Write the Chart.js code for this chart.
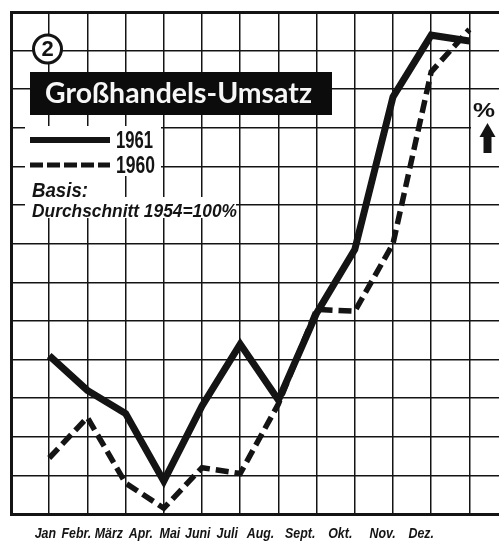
<!DOCTYPE html>
<html>
<head>
<meta charset="utf-8">
<script src="https://cdn.jsdelivr.net/npm/chart.js@4/dist/chart.umd.min.js"></script>
<style>
  html, body { margin: 0; padding: 0; background: #fff; overflow: hidden; }
  canvas { display: block; }
</style>
</head>
<body>
<canvas id="umsatz" width="520" height="543"></canvas>
<script>
// Monate (Kategorien) und Beschriftung
const months = [0, 1, 2, 3, 4, 5, 6, 7, 8, 9, 10, 11];
const monthLabels = ['Jan', 'Febr.', 'März', 'Apr.', 'Mai', 'Juni', 'Juli', 'Aug.', 'Sept.', 'Okt.', 'Nov.', 'Dez.'];

// Großhandels-Umsatz, in Kästchen des Rasters (Basis: Durchschnitt 1954 = 100 %)
const umsatz1961 = [4.1, 3.2, 2.6, 0.85, 2.8, 4.4, 2.95, 5.2, 6.85, 10.8, 12.4, 12.25];
const umsatz1960 = [1.45, 2.5, 0.8, 0.15, 1.2, 1.05, 2.85, 5.3, 5.25, 7.0, 11.45, 12.55];

// Lage der Monatsnamen unter dem Raster (gesetzt wie eine Textzeile)
const labelPos = [-0.1, 0.71, 1.56, 2.4, 3.16, 3.89, 4.66, 5.53, 6.57, 7.62, 8.73, 9.74];

const INK = '#141414';
const SANS = '"Liberation Sans", Arial, sans-serif';

function toPoints(vals) {
  return months.map((m, i) => ({ x: m, y: vals[i] }));
}

// Text auf eine bestimmte Breite bringen
function fitText(ctx, text, x, y, font, width) {
  ctx.save();
  ctx.font = font;
  const w = ctx.measureText(text).width;
  ctx.translate(x, y);
  ctx.scale(width / w, 1);
  ctx.textAlign = 'left';
  ctx.textBaseline = 'alphabetic';
  ctx.fillText(text, 0, 0);
  ctx.restore();
}

// schmale, kursive Monatsnamen an den Ticks der Achse "xm"
const monthRow = {
  id: 'monthRow',
  afterDraw(chart) {
    const s = chart.scales.xm;
    const ctx = chart.ctx;
    ctx.save();
    ctx.fillStyle = INK;
    ctx.font = 'italic bold 15.5px ' + SANS;
    ctx.textAlign = 'center';
    ctx.textBaseline = 'alphabetic';
    s.ticks.forEach((t, i) => {
      const x = s.getPixelForValue(t.value);
      ctx.save();
      ctx.translate(x, s.top + 24);
      ctx.scale(0.8, 1);
      ctx.fillText(monthLabels[i], 0, 0);
      ctx.restore();
    });
    ctx.restore();
  }
};

const decor = {
  id: 'decor',
  afterDraw(chart) {
    const ctx = chart.ctx;
    ctx.save();

    // Nummer im Kreis
    ctx.fillStyle = '#fff';
    ctx.strokeStyle = INK;
    ctx.lineWidth = 3;
    ctx.beginPath();
    ctx.arc(47.5, 49, 14, 0, Math.PI * 2);
    ctx.fill();
    ctx.stroke();
    ctx.fillStyle = INK;
    ctx.font = 'bold 22px ' + SANS;
    ctx.textAlign = 'center';
    ctx.textBaseline = 'middle';
    ctx.fillText('2', 47.5, 50);

    // Titelbalken
    ctx.fillStyle = '#0c0c0c';
    ctx.fillRect(30, 72, 302, 43);
    ctx.fillStyle = '#f6f6f6';
    fitText(ctx, 'Großhandels-Umsatz', 45, 103, 'bold 28px Lato', 267);

    // Legende auf weißem Grund
    ctx.fillStyle = '#fff';
    ctx.fillRect(25, 126, 136, 50);
    ctx.fillRect(25, 176, 96, 22);
    ctx.fillRect(25, 197, 211, 21);

    ctx.strokeStyle = INK;
    ctx.lineWidth = 6;
    ctx.beginPath();
    ctx.moveTo(30, 140);
    ctx.lineTo(110, 140);
    ctx.stroke();
    ctx.lineWidth = 5;
    ctx.setLineDash([13, 4]);
    ctx.beginPath();
    ctx.moveTo(30, 165);
    ctx.lineTo(110, 165);
    ctx.stroke();
    ctx.setLineDash([]);

    ctx.fillStyle = INK;
    fitText(ctx, '1961', 116, 148, 'bold 24px ' + SANS, 37);
    fitText(ctx, '1960', 116, 173, 'bold 24px ' + SANS, 39);
    fitText(ctx, 'Basis:', 32, 197, 'italic bold 21px ' + SANS, 56);
    fitText(ctx, 'Durchschnitt 1954=100%', 32, 217, 'italic bold 18px ' + SANS, 205);

    // Einheit mit Pfeil am rechten Rand
    ctx.fillStyle = '#fff';
    ctx.fillRect(471, 96, 30, 60);
    ctx.fillStyle = INK;
    fitText(ctx, '%', 473, 117, 'bold 21px ' + SANS, 22);
    ctx.beginPath();
    ctx.moveTo(487.5, 123);
    ctx.lineTo(495.5, 137);
    ctx.lineTo(479.5, 137);
    ctx.closePath();
    ctx.fill();
    ctx.fillRect(483.5, 136, 8, 17);

    ctx.restore();
  }
};

new Chart(document.getElementById('umsatz'), {
  type: 'line',
  data: {
    datasets: [
      {
        label: '1961',
        data: toPoints(umsatz1961),
        borderColor: INK,
        borderWidth: 7,
        borderJoinStyle: 'miter',
        borderCapStyle: 'butt',
        pointRadius: 0,
        tension: 0,
        fill: false
      },
      {
        label: '1960',
        data: toPoints(umsatz1960),
        borderColor: INK,
        borderWidth: 5.5,
        borderDash: [13, 6],
        borderJoinStyle: 'miter',
        borderCapStyle: 'butt',
        pointRadius: 0,
        tension: 0,
        fill: false
      }
    ]
  },
  options: {
    responsive: false,
    devicePixelRatio: 1,
    animation: false,
    layout: { padding: { left: 11, top: 12, right: 12.4, bottom: 0 } },
    plugins: {
      legend: { display: false },
      title: { display: false },
      tooltip: { enabled: false }
    },
    scales: {
      x: {
        type: 'linear',
        min: -1,
        max: 12,
        afterFit: s => { s.height = 0; },
        ticks: { display: false, stepSize: 1 },
        border: { display: true, color: INK, width: 3 },
        grid: {
          color: INK,
          drawTicks: false,
          lineWidth: c => (c.tick && c.tick.value === -1 ? 3 : 1.5)
        }
      },
      xm: {
        type: 'linear',
        position: 'bottom',
        min: -1,
        max: 12,
        afterFit: s => { s.height = 29; },
        afterBuildTicks: s => { s.ticks = labelPos.map(v => ({ value: v })); },
        grid: { display: false, drawTicks: false },
        border: { display: false },
        ticks: { display: false, autoSkip: false }
      },
      y: {
        min: 0,
        max: 13,
        afterFit: s => { s.width = 0; },
        ticks: { display: false, stepSize: 1 },
        border: { display: true, color: INK, width: 3 },
        grid: {
          color: INK,
          drawTicks: false,
          lineWidth: c => (c.tick && c.tick.value === 13 ? 3 : 1.5)
        }
      }
    }
  },
  plugins: [decor, monthRow]
});
</script>
</body>
</html>
